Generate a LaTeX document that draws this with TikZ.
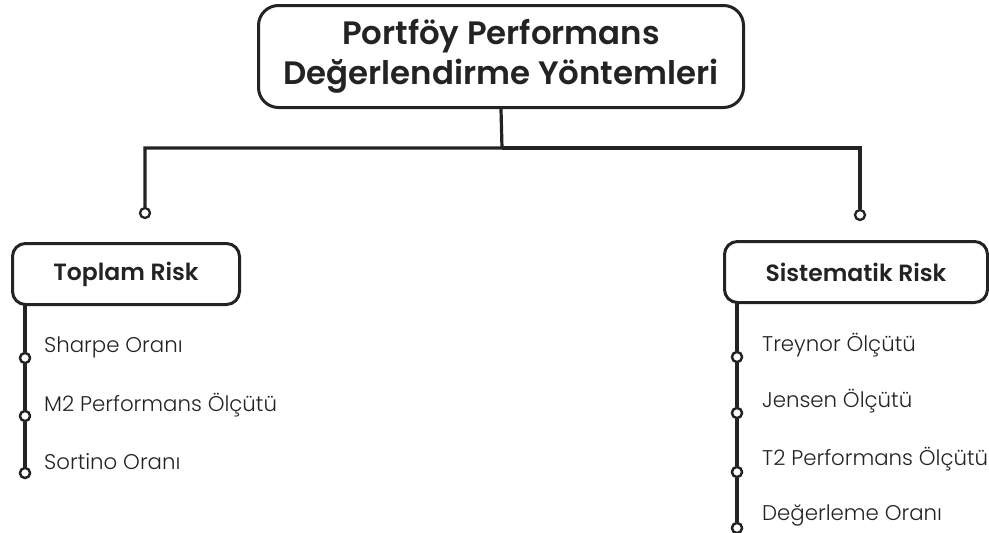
\documentclass[tikz,border=0pt]{standalone}
\usepackage{fontspec}
\setmainfont{Poppins}[UprightFont={* Light},BoldFont={* SemiBold}]
\definecolor{ink}{HTML}{232323}
\begin{document}
\begin{tikzpicture}[x=1pt,y=-1pt,
  every node/.style={text=ink},
  box/.style={draw=ink,line width=3pt,rounded corners=13pt,fill=white,inner sep=0pt,align=center},
  wire/.style={draw=ink,line width=3.2pt},
  knob/.style={circle,draw=ink,line width=2.3pt,fill=white,minimum size=10pt,inner sep=0pt},
  item/.style={anchor=west,inner sep=0pt,font=\fontsize{21.3}{24}\selectfont}
]
\useasboundingbox (0,0) rectangle (989,533);

% root box
\node[box,rounded corners=20pt,minimum width=485pt,minimum height=102pt,
      font=\bfseries\fontsize{32.4}{40.5}\selectfont] (root) at (501,56.5)
  {Portföy Performans\\Değerlendirme Yöntemleri};

% bus and branch ends
\coordinate (bus) at (502,148);
\node[knob] (kl) at (145,213) {};
\node[knob] (kr) at (860,215) {};
\draw[wire] (root.south) -- (bus) -| (kl);
\draw[wire] (bus) -| (kr);

% category boxes
\node[box,minimum width=227pt,minimum height=61pt,
      font=\bfseries\fontsize{23.5}{26}\selectfont] (total) at (126,274) {Toplam Risk};
\node[box,minimum width=263pt,minimum height=61pt,
      font=\bfseries\fontsize{23.5}{26}\selectfont] (syst) at (856,272) {Sistematik Risk};

% left list
\coordinate (ltop) at (25,305);
\node[knob] (l1) at (25,358) {};
\node[knob] (l2) at (25,416) {};
\node[knob] (l3) at (25,473) {};
\draw[wire] (ltop) -- (l1) -- (l2) -- (l3);
\node[knob] at (l1) {};
\node[knob] at (l2) {};
\node[knob] at (l3) {};
\node[item] (t1) at (44,347) {Sharpe Oranı};
\node[item] (t2) at (44,405) {M2 Performans Ölçütü};
\node[item] (t3) at (44,462) {Sortino Oranı};

% right list
\coordinate (rtop) at (737,303);
\node[knob] (r1) at (737,357) {};
\node[knob] (r2) at (737,413) {};
\node[knob] (r3) at (737,472) {};
\node[knob] (r4) at (737,528) {};
\draw[wire] (rtop) -- (r1) -- (r2) -- (r3) -- (r4);
\node[knob] at (r1) {};
\node[knob] at (r2) {};
\node[knob] at (r3) {};
\node[knob] at (r4) {};
\node[item] (s1) at (762,345) {Treynor Ölçütü};
\node[item] (s2) at (762,401) {Jensen Ölçütü};
\node[item] (s3) at (762,459) {T2 Performans Ölçütü};
\node[item] (s4) at (762,515) {Değerleme Oranı};
\end{tikzpicture}
\end{document}
